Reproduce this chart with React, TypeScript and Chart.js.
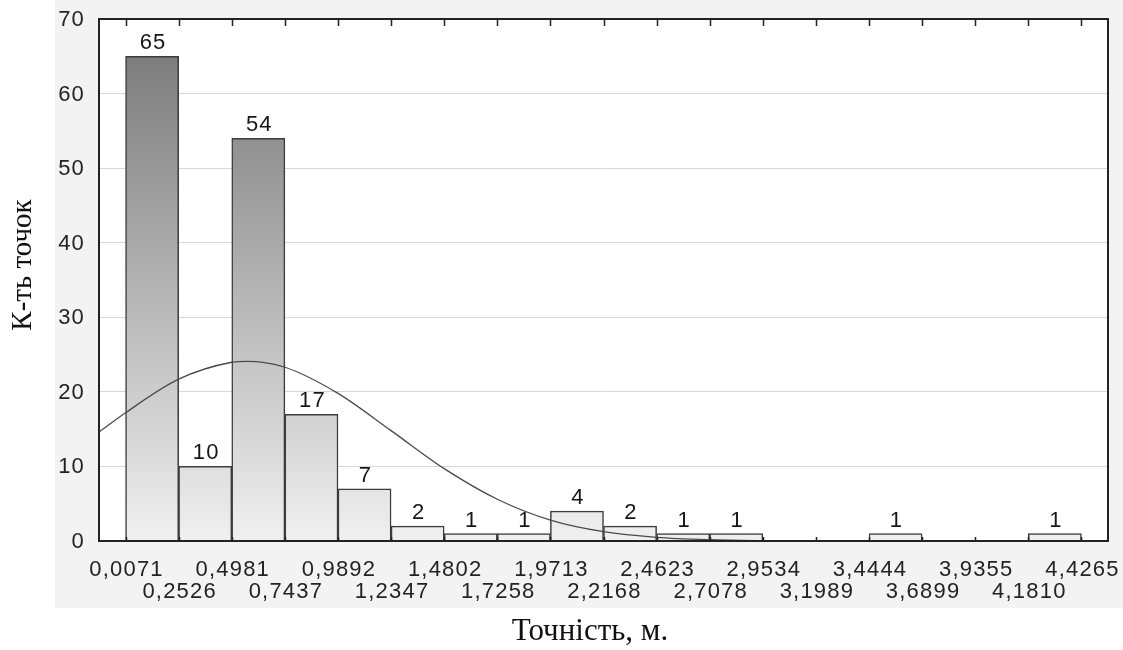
import React, { useEffect, useRef } from "react";
import { Chart, registerables } from "chart.js";

Chart.register(...registerables);

// ---- data ----
const binEdges = [
  0.0071, 0.2526, 0.4981, 0.7437, 0.9892, 1.2347, 1.4802, 1.7258, 1.9713, 2.2168,
  2.4623, 2.7078, 2.9534, 3.1989, 3.4444, 3.6899, 3.9355, 4.181, 4.4265,
];
const edgeLabels = [
  "0,0071", "0,2526", "0,4981", "0,7437", "0,9892", "1,2347", "1,4802", "1,7258", "1,9713", "2,2168",
  "2,4623", "2,7078", "2,9534", "3,1989", "3,4444", "3,6899", "3,9355", "4,1810", "4,4265",
];
const counts = [65, 10, 54, 17, 7, 2, 1, 1, 4, 2, 1, 1, 0, 0, 1, 0, 0, 1];
// fitted normal curve
const curveX = [
  -0.1157, 0.0071, 0.2526, 0.4981, 0.57, 0.7437, 0.9892, 1.2347, 1.4802, 1.7258, 1.9713,
  2.2168, 2.4623, 2.7078, 2.9534, 3.1989, 3.4444, 3.9355, 4.5493,
];
const curveY = [
  14.6, 17.2, 21.7, 23.97, 24.1, 23.3, 19.8, 14.8, 9.7, 5.6, 2.8,
  1.25, 0.49, 0.17, 0.05, 0.01, 0, 0, 0,
];
const yTicks = [0, 10, 20, 30, 40, 50, 60, 70];
const xMin = -0.1157;
const xMax = 4.5493;
const xTitle = "Точність, м.";
const yTitle = "К-ть точок";

const W = 1123;
const H = 650;

export default function App() {
  const ref = useRef<HTMLCanvasElement | null>(null);

  useEffect(() => {
    const canvas = ref.current;
    if (!canvas) return;

    const barData = counts.map((c, i) => ({ x: (binEdges[i] + binEdges[i + 1]) / 2, y: c }));
    const lineData = curveX.map((x, i) => ({ x, y: curveY[i] }));

    const decor = {
      id: "decor",
      beforeDraw(chart: any) {
        const { ctx, chartArea: a } = chart;
        ctx.save();
        ctx.fillStyle = "#ffffff";
        ctx.fillRect(0, 0, W, H);
        ctx.fillStyle = "#f3f3f3";
        ctx.fillRect(55, 0, W - 55, 608);
        ctx.fillStyle = "#ffffff";
        ctx.fillRect(a.left, a.top, a.right - a.left, a.bottom - a.top);
        ctx.restore();
      },
      afterDraw(chart: any) {
        const { ctx, chartArea: a } = chart;
        const xs = chart.scales.x;
        const ys = chart.scales.y;
        ctx.save();
        // value labels above bars
        ctx.font = "22px 'Liberation Sans', Arial, sans-serif";
        (ctx as any).letterSpacing = "1.2px";
        ctx.fillStyle = "#161616";
        ctx.textAlign = "center";
        ctx.textBaseline = "alphabetic";
        counts.forEach((c, i) => {
          if (!c) return;
          const cx = xs.getPixelForValue((binEdges[i] + binEdges[i + 1]) / 2);
          const top = ys.getPixelForValue(c);
          ctx.fillText(String(c), cx + 1, top - 7);
        });
        // frame
        ctx.strokeStyle = "#222";
        ctx.lineWidth = 2;
        ctx.strokeRect(a.left, a.top, a.right - a.left, a.bottom - a.top);
        // ticks
        ctx.lineWidth = 1.5;
        binEdges.forEach((e) => {
          const px = Math.round(xs.getPixelForValue(e)) + 0.5;
          ctx.beginPath();
          ctx.moveTo(px, a.top);
          ctx.lineTo(px, a.top + 7);
          ctx.moveTo(px, a.bottom);
          ctx.lineTo(px, a.bottom - 4);
          ctx.stroke();
        });
        // y tick labels
        ctx.fillStyle = "#232323";
        ctx.textAlign = "right";
        ctx.textBaseline = "middle";
        yTicks.forEach((t) => {
          ctx.fillText(String(t), 85, ys.getPixelForValue(t) + 1);
        });
        // x tick labels (two rows)
        ctx.textAlign = "center";
        edgeLabels.forEach((lab, i) => {
          const px = xs.getPixelForValue(binEdges[i]);
          const py = i % 2 === 0 ? 570 : 592;
          ctx.fillText(lab, px + 1, py);
        });
        // axis titles
        (ctx as any).letterSpacing = "0px";
        ctx.fillStyle = "#111";
        ctx.textAlign = "center";
        ctx.textBaseline = "middle";
        ctx.font = "31px 'Liberation Serif', 'Times New Roman', serif";
        ctx.fillText(xTitle, 590, 632);
        ctx.font = "29px 'Liberation Serif', 'Times New Roman', serif";
        ctx.translate(23, 265);
        ctx.rotate(-Math.PI / 2);
        ctx.fillText(yTitle, 0, 0);
        ctx.restore();
      },
    };

    const chart = new Chart(canvas, {
      data: {
        datasets: [
          {
            type: "line",
            data: lineData,
            borderColor: "#4a4a4a",
            borderWidth: 1.3,
            pointRadius: 0,
            cubicInterpolationMode: "monotone",
            fill: false,
            order: 0,
          } as any,
          {
            type: "bar",
            data: barData,
            barPercentage: 1,
            categoryPercentage: 1,
            borderWidth: 1.5,
            borderColor: "#3c3c3c",
            borderSkipped: "start",
            order: 1,
            backgroundColor: (c: any) => {
              const ch = c.chart;
              if (!ch.chartArea) return "#dddddd";
              const y = ch.scales.y;
              const g = ch.ctx.createLinearGradient(0, y.getPixelForValue(70), 0, y.getPixelForValue(0));
              g.addColorStop(0, "#747474");
              g.addColorStop(1, "#f0f0f0");
              return g;
            },
          } as any,
        ],
      },
      options: {
        animation: false,
        responsive: false,
        devicePixelRatio: 1,
        layout: { padding: { left: 99, top: 19, right: 15, bottom: 109 } },
        plugins: { legend: { display: false }, tooltip: { enabled: false } },
        scales: {
          x: {
            type: "linear",
            min: xMin,
            max: xMax,
            offset: false,
            display: false,
          },
          y: {
            min: 0,
            max: 70,
            ticks: { display: false, stepSize: 10 },
            grid: { color: "#d6d6d6", lineWidth: 1, drawTicks: false },
            border: { display: false },
          },
        },
      },
      plugins: [decor],
    } as any);

    return () => chart.destroy();
  }, []);

  return (
    <div style={{ position: "fixed", left: 0, top: 0, width: W, height: H, background: "#fff" }}>
      <canvas ref={ref} width={W} height={H} style={{ display: "block", width: W, height: H }} />
    </div>
  );
}
